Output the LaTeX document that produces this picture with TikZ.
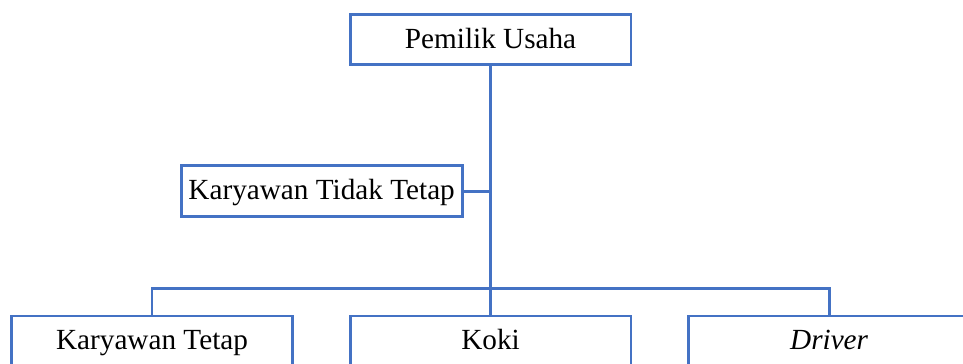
\documentclass[tikz,border=0pt]{standalone}
\usepackage{fontspec}
\setmainfont{Liberation Serif}
\usepackage{xcolor}
\usepackage{tikz}
\definecolor{orgblue}{RGB}{68,114,196}
\usetikzlibrary{positioning}

\begin{document}
\begin{tikzpicture}[
  orgbox/.style={draw=orgblue, line width=2.2pt, fill=white, minimum width=7.43cm,
    minimum height=1.33cm, inner sep=0pt, text height=13pt, text depth=0pt,
    font=\fontsize{22}{26}\selectfont},
  link/.style={draw=orgblue, line width=2.2pt}]
  % Page frame
  \clip (0,0) rectangle (25.48,9.605);

  % Boxes
  \node[orgbox] (owner) at (12.98, 8.56) {Pemilik Usaha};
  \node[orgbox] (casual) at (8.51, 4.55) {Karyawan Tidak Tetap};
  \node[orgbox] (koki) at (12.98, 0.58) {Koki};
  \node[orgbox, left=1.45cm of koki] (permanent) {Karyawan Tetap};
  \node[orgbox, right=1.45cm of koki] (driver) {\itshape Driver};

  % Lines
  \coordinate (bus) at (12.98, 1.98);
  \draw[link] (owner.south) -- (koki.north);
  \draw[link] (casual.east) -- (casual.east -| owner.south);
  \draw[link] (permanent.north) |- (bus) -| (driver.north);
\end{tikzpicture}
\end{document}
